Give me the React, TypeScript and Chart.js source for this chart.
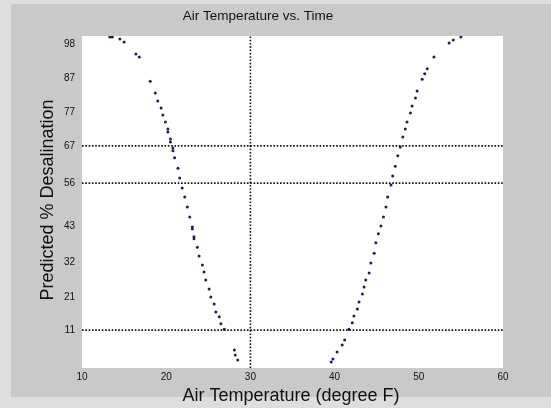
import React, { useEffect, useRef } from "react";
import { Chart, registerables } from "chart.js";
Chart.register(...registerables);

// Curve data
const leftTemp = [13.3, 13.6, 14.5, 15.0, 16.4, 16.8, 18.1, 18.7, 19.0, 19.4, 19.6, 19.9, 20.2, 20.2, 20.5, 20.5, 20.8, 20.8, 21.0, 21.4, 21.6, 21.9, 22.2, 22.5, 22.8, 23.1, 23.1, 23.3, 23.3, 23.7, 23.9, 24.3, 24.5, 24.7, 25.1, 25.3, 25.7, 25.9, 26.3, 26.5, 26.9, 28.1, 28.2, 28.5];
const leftPct = [99.7, 99.7, 99.1, 98.2, 94.6, 93.7, 86.4, 82.8, 80.4, 78.3, 76.2, 74.1, 72.0, 71.1, 69.0, 68.1, 66.3, 65.4, 63.3, 60.2, 57.2, 54.2, 51.5, 48.5, 45.5, 42.5, 41.9, 39.5, 38.9, 36.4, 33.7, 31.0, 28.9, 26.5, 23.8, 21.4, 19.3, 16.9, 15.4, 13.3, 11.7, 5.4, 3.9, 2.4];
const rightTemp = [39.6, 39.8, 40.3, 40.9, 41.2, 41.7, 42.1, 42.3, 42.7, 42.9, 43.3, 43.5, 43.7, 44.1, 44.3, 44.7, 44.9, 45.2, 45.5, 45.8, 46.1, 46.3, 46.7, 46.9, 47.2, 47.5, 47.8, 48.1, 48.4, 48.6, 49.0, 49.2, 49.6, 49.8, 50.4, 50.7, 51.0, 51.8, 53.6, 54.1, 55.0];
const rightPct = [1.8, 2.7, 4.8, 6.9, 8.4, 11.7, 13.6, 15.7, 17.8, 19.9, 22.3, 24.4, 26.5, 28.6, 31.6, 34.6, 37.7, 40.4, 42.8, 45.5, 48.5, 51.5, 55.1, 57.8, 60.8, 63.9, 66.6, 69.6, 72.0, 74.1, 76.8, 78.9, 81.3, 83.4, 87.0, 88.6, 90.1, 93.7, 97.9, 98.8, 99.7];

// Reference lines
const refPct = [66.9, 55.7, 11.4];
const refTemp = [30];

// Axes
const xMin = 10;
const xMax = 60;
const yMin = 0;
const yMax = 100;
const xTickValues = [10, 20, 30, 40, 50, 60];
const xTickLabels = ["10", "20", "30", "40", "50", "60"];
const yTickValues = [11.4, 21.4, 31.9, 42.8, 55.7, 66.9, 77.1, 87.3, 97.6];
const yTickLabels = ["11", "21", "32", "43", "56", "67", "77", "87", "98"];

const titleText = "Air Temperature vs. Time";
const xLabel = "Air Temperature (degree F)";
const yLabel = "Predicted % Desalination";

export default function App() {
  const ref = useRef<HTMLCanvasElement | null>(null);
  useEffect(() => {
    document.body.style.margin = "0";
    const canvas = ref.current!;
    const pts = [
      ...leftTemp.map((x, i) => ({ x, y: leftPct[i] })),
      ...rightTemp.map((x, i) => ({ x, y: rightPct[i] })),
    ];
    const dash = { borderColor: "#111", borderWidth: 1.6, borderDash: [1.6, 1.7], pointRadius: 0, showLine: true, fill: false, clip: 0 as any };
    const datasets: any[] = [
      ...refPct.map((v) => ({ ...dash, data: [{ x: xMin, y: v }, { x: xMax, y: v }] })),
      ...refTemp.map((v) => ({ ...dash, data: [{ x: v, y: yMin }, { x: v, y: yMax }] })),
      {
        data: pts,
        showLine: false,
        pointRadius: 1.5,
        pointBorderWidth: 0,
        pointBackgroundColor: "#1e1e5c",
        pointBorderColor: "#1e1e5c",
      },
    ];
    const bg = {
      id: "bg",
      beforeDraw(chart: any) {
        const c = chart.ctx;
        const a = chart.chartArea;
        c.save();
        c.fillStyle = "#dedede";
        c.fillRect(0, 0, chart.width, chart.height);
        c.fillStyle = "#c9c9c9";
        c.fillRect(11, 4, chart.width - 11, 393);
        c.fillStyle = "#ffffff";
        c.fillRect(a.left, a.top, a.right - a.left, a.bottom - a.top);
        c.restore();
      },
      afterDraw(chart: any) {
        const c = chart.ctx;
        c.save();
        c.fillStyle = "#111";
        c.textAlign = "center";
        c.textBaseline = "middle";
        c.font = '13.5px "Liberation Sans", Arial, sans-serif';
        c.fillText(titleText, 258, 16);
        c.font = '18px "Liberation Sans", Arial, sans-serif';
        c.fillText(xLabel, 291, 396);
        c.translate(48, 200);
        c.rotate(-Math.PI / 2);
        c.fillText(yLabel, 0, 0);
        c.restore();
      },
    };
    const chart = new Chart(canvas, {
      type: "scatter",
      data: { datasets },
      options: {
        responsive: false,
        animation: false,
        layout: { padding: { left: 0, right: 48, top: 36, bottom: 0 } },
        plugins: { legend: { display: false }, tooltip: { enabled: false }, title: { display: false } },
        scales: {
          x: {
            type: "linear",
            min: xMin,
            max: xMax,
            afterBuildTicks: (s: any) => { s.ticks = xTickValues.map((v) => ({ value: v })); },
            afterFit: (s: any) => { s.height = 40; },
            grid: { display: false, drawTicks: false },
            border: { display: false },
            ticks: {
              padding: 3,
              color: "#111",
              font: { size: 10, family: '"Liberation Sans", Arial, sans-serif' },
              maxRotation: 0,
              autoSkip: false,
              callback: (_v: any, i: number) => xTickLabels[i],
            },
          },
          y: {
            type: "linear",
            min: yMin,
            max: yMax,
            afterBuildTicks: (s: any) => { s.ticks = yTickValues.map((v) => ({ value: v })); },
            afterFit: (s: any) => { s.width = 82; },
            grid: { display: false, drawTicks: false },
            border: { display: false },
            ticks: {
              padding: 7,
              color: "#111",
              font: { size: 10, family: '"Liberation Sans", Arial, sans-serif' },
              autoSkip: false,
              callback: (_v: any, i: number) => yTickLabels[i],
            },
          },
        },
      },
      plugins: [bg],
    } as any);
    return () => chart.destroy();
  }, []);
  return <canvas ref={ref} width={551} height={408} style={{ display: "block" }} />;
}
